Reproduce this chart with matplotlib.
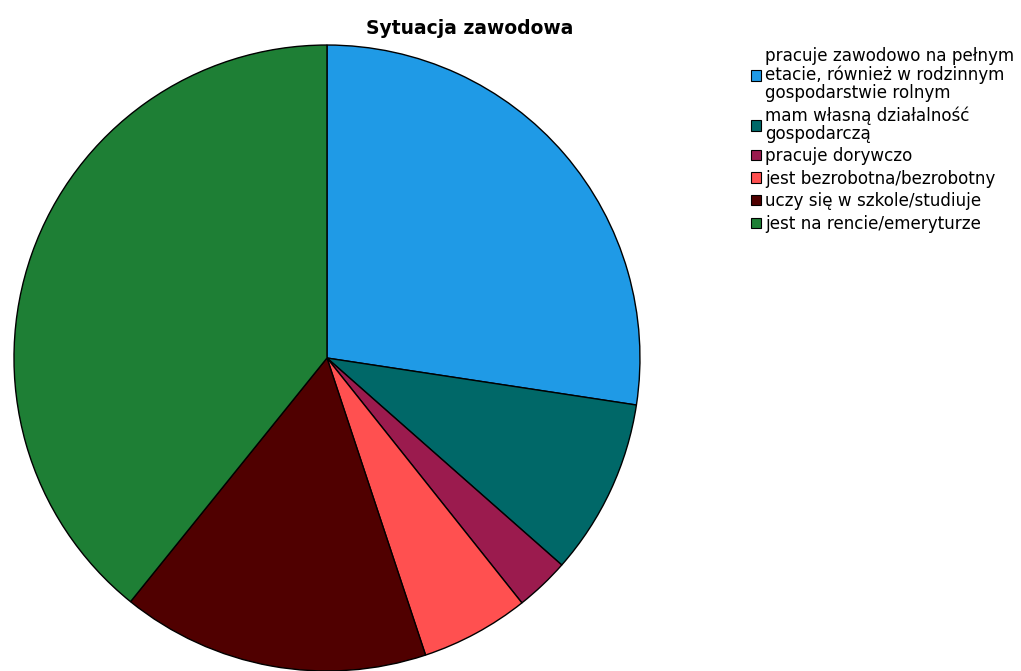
import matplotlib
matplotlib.use("Agg")
import matplotlib.pyplot as plt
from matplotlib.patches import Patch

labels = [
    "pracuje zawodowo na pełnym\netacie, również w rodzinnym\ngospodarstwie rolnym",
    "mam własną działalność\ngospodarczą",
    "pracuje dorywczo",
    "jest bezrobotna/bezrobotny",
    "uczy się w szkole/studiuje",
    "jest na rencie/emeryturze",
]
shares = [27.4, 9.1, 2.8, 5.6, 15.9, 39.2]
colors = ["#1f9ae6", "#006868", "#9b1b4e", "#ff5050", "#500000", "#1e7f35"]

plt.rcParams["font.family"] = ["DejaVu Sans"]

fig = plt.figure(figsize=(10.21, 6.71), dpi=100)
ax = fig.add_axes([0.0137, 0.0, 0.6131, 0.9329])
ax.pie(shares, colors=colors, startangle=90, counterclock=False, radius=1,
       wedgeprops=dict(edgecolor="black", linewidth=1))
ax.set_xlim(-1, 1)
ax.set_ylim(-1, 1)
ax.axis("off")

fig.text(470 / 1021, 1 - 28 / 671, "Sytuacja zawodowa", ha="center", va="center",
         fontsize=13.5, fontweight="bold")

handles = [Patch(facecolor=c, edgecolor="black", linewidth=0.8) for c in colors]
leg = fig.legend(handles, labels, loc="upper left", bbox_to_anchor=(751 / 1021, 1 - 47 / 671),
                 frameon=False, fontsize=12.1, handlelength=0.58, handleheight=0.58,
                 handletextpad=0.25, labelspacing=0.27, borderpad=0, borderaxespad=0)
for t in leg.get_texts():
    t.set_linespacing(1.0)

fig.savefig("out.png", dpi=100)
